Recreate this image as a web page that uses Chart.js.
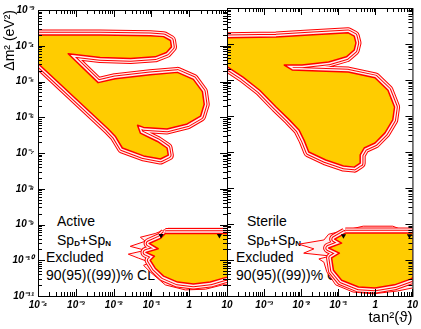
<!DOCTYPE html>
<html>
<head>
<meta charset="utf-8">
<script src="https://cdn.jsdelivr.net/npm/chart.js@4.4.1/dist/chart.umd.min.js"></script>
<style>
  body { margin: 0; background: #fff; }
  #wrap { position: relative; width: 421px; height: 329px; background: #fff; overflow: hidden; }
  .note { position: absolute; font: 14px "Liberation Sans", Arial, sans-serif; line-height: 18px; white-space: nowrap; color: #000; }
  .note sub { font-size: 8px; font-weight: bold; vertical-align: -1px; }
  canvas { position: absolute; top: 0; }
</style>
</head>
<body>
<div id="wrap">
  <div class="note" style="left:57px;top:212px">Active</div>
  <div class="note" style="left:57px;top:231px">Sp<sub>D</sub>+Sp<sub>N</sub></div>
  <div class="note" style="left:46px;top:248px">Excluded</div>
  <div class="note" style="left:46px;top:266px">90(95)((99))% CL</div>
  <div class="note" style="left:247px;top:212px">Sterile</div>
  <div class="note" style="left:247px;top:231px">Sp<sub>D</sub>+Sp<sub>N</sub></div>
  <div class="note" style="left:236px;top:248px">Excluded</div>
  <div class="note" style="left:236px;top:266px">90(95)((99))% CL</div>
  <canvas id="activeChart" width="240" height="329" style="left:0"></canvas>
  <canvas id="sterileChart" width="221" height="329" style="left:200px"></canvas>
</div>
<script>
// axis decades and their labels
const xDecades = [1e-4, 1e-3, 1e-2, 1e-1, 1, 10]
const xLabelsActive = ['10⁻⁴', '10⁻³', '10⁻²', '10⁻¹', '1', '10']
const xLabelsSterile = ['', '10⁻³', '10⁻²', '10⁻¹', '1', '10']
const yDecades = [1e-11, 1e-10, 1e-9, 1e-8, 1e-7, 1e-6, 1e-5, 1e-4, 1e-3]
const yLabels = ['10⁻¹¹', '10⁻¹⁰', '10⁻⁹', '10⁻⁸', '10⁻⁷', '10⁻⁶', '10⁻⁵', '10⁻⁴', '10⁻³']
const minorSteps = [2, 3, 4, 5, 6, 7, 8, 9]

// excluded regions, [tan^2(theta), dm^2]
const activeMain = [
  [6.2e-5, 2.0e-4], [4.4e-3, 2.0e-4], [9.3e-2, 1.9e-4], [0.21, 1.8e-4], [0.32, 1.4e-4],
  [0.34, 9.3e-5], [0.25, 6.5e-5], [0.126, 4.9e-5], [2.8e-2, 4.4e-5], [4.4e-3, 4.7e-5],
  [6.3e-4, 6.0e-5], [3.9e-3, 9.3e-6], [1.1e-2, 1.2e-5], [9.3e-2, 1.55e-5], [0.49, 1.8e-5],
  [1.29, 1.15e-5], [2.24, 5.2e-6], [2.5, 2.3e-6], [2.0, 1.07e-6], [0.89, 6.5e-7],
  [0.26, 4.7e-7], [6.2e-2, 5.2e-7], [4.3e-2, 6.0e-7], [5.1e-2, 3.6e-7], [0.145, 2.1e-7],
  [0.26, 1.38e-7], [0.28, 8.7e-8], [0.174, 6.8e-8], [6.2e-2, 8.3e-8], [1.7e-2, 1.38e-7],
  [1.1e-2, 2.95e-7], [7.2e-3, 4.7e-7], [1.0e-4, 3.2e-5], [6.2e-5, 4.1e-5]
]
const activeLow = [
  [0.234, 5.6e-10], [17, 5.6e-10], [17, 3.8e-11], [8.1, 3.16e-11], [3.6, 2.45e-11],
  [1.29, 2.15e-11], [0.49, 2.45e-11], [0.21, 3.6e-11], [0.126, 6.0e-11], [9.3e-2, 1.0e-10],
  [0.12, 1.29e-10], [7.2e-2, 1.66e-10], [0.151, 2.1e-10], [8.7e-2, 2.95e-10], [0.174, 4.1e-10]
]
const activeLowOuter = [
  [0.28, 7.8e-10], [17, 7.8e-10], [17, 2.15e-11], [7.6, 2.04e-11], [2.7, 1.55e-11],
  [0.79, 1.48e-11], [0.234, 2.04e-11], [9.3e-2, 4.7e-11], [6.2e-2, 7.2e-11], [9.3e-2, 8.7e-11],
  [4.5e-2, 1.15e-10], [2.45e-2, 1.48e-10], [6.9e-2, 1.9e-10], [2.75e-2, 2.45e-10],
  [6.9e-2, 3.4e-10], [5.1e-2, 4.4e-10], [0.126, 5.6e-10]
]
const activeBest = [[0.18, 4.9e-10], [6.3, 4.9e-10]]

const sterileMain = [
  [6.5e-5, 1.48e-4], [2.1e-3, 1.56e-4], [1.6e-2, 1.78e-4], [0.186, 2.04e-4], [0.27, 1.66e-4],
  [0.30, 1.07e-4], [0.27, 6.8e-5], [0.166, 4.4e-5], [5.5e-2, 3.16e-5], [1.05e-2, 2.6e-5],
  [3.5e-3, 2.6e-5], [5.7e-3, 1.9e-5], [2.97e-2, 1.78e-5], [0.186, 1.66e-5], [0.98, 1.15e-5],
  [2.19, 5.2e-6], [3.3, 1.78e-6], [2.95, 7.8e-7], [1.82, 3.4e-7], [0.98, 1.78e-7],
  [0.50, 1.29e-7], [0.39, 8.3e-8], [0.39, 4.9e-8], [0.27, 3.8e-8], [0.138, 4.1e-8],
  [4.6e-2, 6.0e-8], [1.6e-2, 1.0e-7], [1.2e-2, 2.1e-7], [8.7e-3, 4.1e-7], [4.8e-3, 7.8e-7],
  [2.1e-3, 1.78e-6], [7.6e-4, 5.2e-6], [2.7e-4, 1.2e-5], [6.5e-5, 3.16e-5]
]
const sterileLow = [
  [0.155, 5.6e-10], [13.5, 5.6e-10], [13.5, 3.8e-11], [8.9, 2.95e-11], [3.3, 2.04e-11],
  [0.98, 1.66e-11], [0.35, 1.78e-11], [0.123, 2.75e-11], [7.4e-2, 5.2e-11], [6.6e-2, 1.15e-10],
  [0.107, 1.55e-10], [5.5e-2, 2.15e-10], [0.123, 2.95e-10], [8.0e-2, 3.8e-10]
]
const sterileLowOuter = [
  [0.47, 8.7e-10], [2.95, 8.7e-10], [5.4, 6.8e-10], [13.5, 6.8e-10], [13.5, 1.78e-11],
  [4.0, 1.38e-11], [0.87, 1.15e-11], [0.25, 1.29e-11], [8.5e-2, 2.04e-11], [4.9e-2, 4.7e-11],
  [4.1e-2, 8.7e-11], [3.0e-2, 1.07e-10], [6.2e-2, 1.29e-10], [1.17e-2, 1.55e-10],
  [2.2e-2, 2.04e-10], [8.7e-3, 2.75e-10], [4.1e-2, 3.6e-10], [5.5e-2, 5.2e-10], [0.138, 6.5e-10]
]
const sterileBest = [[0.138, 4.7e-10], [8.3, 4.7e-10]]

const red = '#ff0000'
const pale = '#fff0f0'
const yellow = '#ffcc00'

Chart.defaults.font.family = '"Liberation Sans", Arial, sans-serif'
Chart.defaults.color = '#000'

function closed(points) {
  return points.concat([points[0]]).map(([x, y]) => ({x, y}))
}

function findDecade(decades, v) {
  return decades.findIndex(d => Math.abs(Math.log10(v) - Math.log10(d)) < 1e-6)
}

// 90% region filled, 95 / 99% drawn as outlines around it
function contourSets(points) {
  const common = {data: closed(points), pointRadius: 0, clip: 0, borderJoinStyle: 'round', fill: false}
  return [
    {...common, borderColor: red, borderWidth: 11, order: 15},
    {...common, borderColor: pale, borderWidth: 9, order: 14},
    {...common, borderColor: red, borderWidth: 6.5, order: 13},
    {...common, borderColor: pale, borderWidth: 4.5, order: 12},
    {...common, borderColor: red, borderWidth: 1.5, backgroundColor: yellow, fill: 'shape', order: 11}
  ]
}

function outerSet(points) {
  return {data: closed(points), pointRadius: 0, clip: 0, borderJoinStyle: 'round',
    borderColor: red, borderWidth: 1, backgroundColor: pale, fill: 'shape', order: 20}
}

function bestSet(points) {
  return {data: points.map(([x, y]) => ({x, y})), showLine: false, pointStyle: 'triangle',
    rotation: 180, pointRadius: 3, backgroundColor: '#000', borderColor: '#000', borderWidth: 0, order: 0}
}

// major + minor tick values of a log axis
function tickValues(decades) {
  const minors = decades.slice(0, -1).flatMap(d => minorSteps.map(k => d * k))
  return decades.map(v => ({v, len: 7})).concat(minors.map(v => ({v, len: 4})))
}

// inward ticks on all four sides plus the frame
const frameTicks = {
  id: 'frameTicks',
  afterDraw(chart) {
    const {ctx, chartArea: a, scales: {x, y}} = chart
    ctx.save()
    ctx.strokeStyle = '#000'
    ctx.lineWidth = 1
    ctx.strokeRect(a.left + 0.5, a.top + 0.5, a.right - a.left, a.bottom - a.top)
    ctx.beginPath()
    tickValues(xDecades).forEach(t => {
      const p = Math.round(x.getPixelForValue(t.v)) + 0.5
      ctx.moveTo(p, a.bottom); ctx.lineTo(p, a.bottom - t.len)
      ctx.moveTo(p, a.top); ctx.lineTo(p, a.top + t.len)
    })
    tickValues(yDecades).forEach(t => {
      const p = Math.round(y.getPixelForValue(t.v)) + 0.5
      ctx.moveTo(a.left, p); ctx.lineTo(a.left + t.len, p)
      ctx.moveTo(a.right, p); ctx.lineTo(a.right - t.len, p)
    })
    ctx.stroke()
    ctx.restore()
  }
}

const tickFont = {size: 10, weight: 'bold', style: 'italic'}

function makeChart(id, datasets, xLabels, isLeft) {
  return new Chart(document.getElementById(id), {
    type: 'line',
    data: {datasets},
    options: {
      responsive: false,
      animation: false,
      layout: {padding: isLeft ? {top: 8, right: 13, left: 0, bottom: 0} : {top: 8, right: 6, left: 0, bottom: 0}},
      plugins: {legend: {display: false}, tooltip: {enabled: false}},
      scales: {
        x: {
          type: 'logarithmic',
          min: 1e-4,
          max: 10,
          grid: {display: false, drawTicks: false},
          border: {display: false},
          ticks: {
            autoSkip: false, maxRotation: 0, minRotation: 0, padding: 3, font: tickFont,
            callback: v => {
              const i = findDecade(xDecades, v)
              return i >= 0 ? xLabels[i] : ''
            }
          },
          title: {
            display: !isLeft, text: 'tan²(ϑ)', align: 'end',
            font: {size: 15}, padding: {top: 0, bottom: 2}
          },
          afterFit: s => { s.height = 33 }
        },
        y: {
          type: 'logarithmic',
          min: 1e-11,
          max: 1e-3,
          grid: {display: false, drawTicks: false},
          border: {display: false},
          ticks: {
            display: isLeft, autoSkip: false, padding: 4, font: tickFont,
            callback: v => {
              const i = findDecade(yDecades, v)
              return i >= 0 ? yLabels[i] : ''
            }
          },
          title: {
            display: isLeft, text: 'Δm² (eV²)', align: 'end',
            font: {size: 14}, padding: {top: 2, bottom: 0}
          },
          afterFit: s => { s.width = isLeft ? 38 : 27 }
        }
      }
    },
    plugins: [frameTicks]
  })
}

makeChart('activeChart', [
  ...contourSets(activeMain),
  outerSet(activeLowOuter),
  ...contourSets(activeLow),
  bestSet(activeBest)
], xLabelsActive, true)

makeChart('sterileChart', [
  ...contourSets(sterileMain),
  outerSet(sterileLowOuter),
  ...contourSets(sterileLow),
  bestSet(sterileBest)
], xLabelsSterile, false)
</script>
</body>
</html>
